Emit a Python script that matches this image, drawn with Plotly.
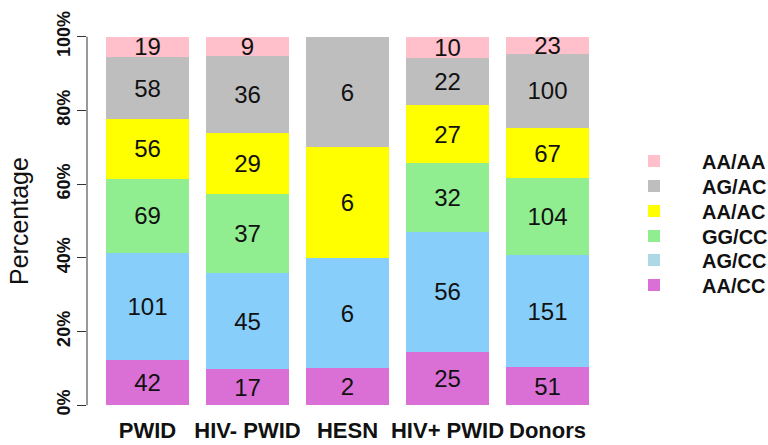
import plotly.graph_objects as go

categories = ["PWID", "HIV- PWID", "HESN", "HIV+ PWID", "Donors"]
genotypes = ["AA/CC", "AG/CC", "GG/CC", "AA/AC", "AG/AC", "AA/AA"]
aa_cc = [42, 17, 2, 25, 51]
ag_cc = [101, 45, 6, 56, 151]
gg_cc = [69, 37, 0, 32, 104]
aa_ac = [56, 29, 6, 27, 67]
ag_ac = [58, 36, 6, 22, 100]
aa_aa = [19, 9, 0, 10, 23]
series = [aa_cc, ag_cc, gg_cc, aa_ac, ag_ac, aa_aa]
bar_colors = ["#DA70D6", "#87CEFA", "#90EE90", "#FFFF00", "#BEBEBE", "#FFC0CB"]
legend_colors = ["#DA70D6", "#ADD8E6", "#90EE90", "#FFFF00", "#BEBEBE", "#FFC0CB"]
y_ticks = [0, 0.2, 0.4, 0.6, 0.8, 1.0]

FONT = "Liberation Sans, Arial"
W, H = 768, 445
ML, MR, MT, MB = 87, 161, 22, 25
PH = H - MT - MB
PW = W - ML - MR

fig = go.Figure()
for i, (name, vals) in enumerate(zip(genotypes, series)):
    fig.add_trace(go.Bar(
        x=categories, y=vals, name=name,
        marker=dict(color=bar_colors[i], line=dict(width=0)),
        text=[str(v) if v > 0 else "" for v in vals],
        textposition="inside", insidetextanchor="middle", textangle=0,
        textfont=dict(family=FONT, size=24, color="#111111"),
        showlegend=False, hoverinfo="skip",
    ))

# legend: one legend box per genotype, top row = AA/AA
legend_rows_px = [285, 260, 236, 211, 186, 161]  # AA/CC ... AA/AA
legend_layouts = {}
for i, name in enumerate(genotypes):
    key = "legend" if i == 0 else f"legend{i + 1}"
    fig.add_trace(go.Bar(
        x=[None], y=[None], name=name,
        marker=dict(color=legend_colors[i], line=dict(width=0)),
        showlegend=True, legend=key,
    ))
    legend_layouts[key] = dict(
        x=(606 - ML) / PW, y=1 - (legend_rows_px[i] - MT) / PH,
        xanchor="left", yanchor="middle",
        font=dict(size=20, family=FONT, color="#111111", weight="bold"),
        itemwidth=86, bgcolor="rgba(0,0,0,0)", borderwidth=0,
    )

fig.add_shape(type="line", xref="paper", yref="y", x0=0, x1=0, y0=0, y1=1,
              line=dict(color="#333333", width=1))
fig.add_annotation(text="Percentage", xref="paper", yref="y", x=0, y=0.5,
                   xanchor="center", yanchor="middle", xshift=-68, textangle=-90,
                   showarrow=False, font=dict(size=25, family=FONT, color="#111111"))

fig.update_layout(
    width=W, height=H,
    margin=dict(l=ML, r=MR, t=MT, b=MB, autoexpand=False),
    paper_bgcolor="white", plot_bgcolor="white",
    barmode="stack", barnorm="fraction", bargap=0.17,
    uniformtext=dict(minsize=24, mode="show"),
    font=dict(family=FONT, color="#111111"),
    xaxis=dict(
        range=[-0.605, 4.595], showline=False, ticks="", showgrid=False,
        automargin=False,
        tickfont=dict(size=22, family=FONT, color="#111111", weight="bold"),
        ticklabelstandoff=-5,
    ),
    yaxis=dict(
        range=[-0.04, 1.04], tickvals=y_ticks, tickformat=".0%",
        ticks="outside", ticklen=9, tickcolor="#333333", showline=False,
        showgrid=False, zeroline=False, tickangle=-90, automargin=False,
        tickfont=dict(size=18, family=FONT, color="#111111", weight="bold"),
    ),
    **legend_layouts,
)

fig.write_html("out.html", config={"displayModeBar": False},
               post_script="document.body.style.margin='0';")
